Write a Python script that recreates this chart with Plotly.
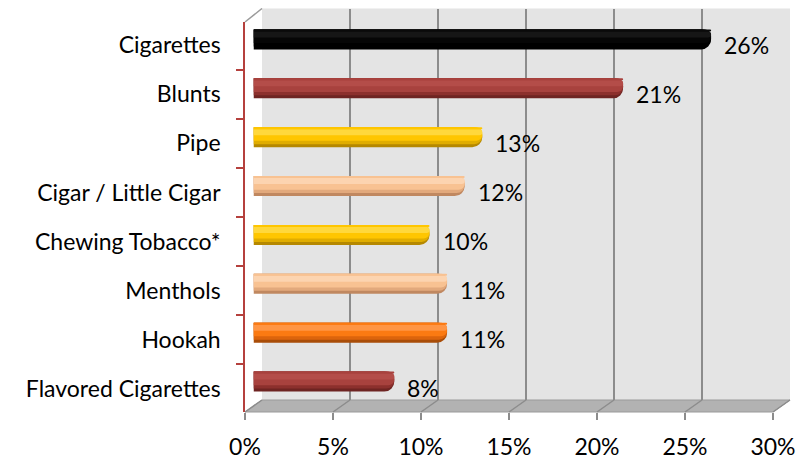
import plotly.graph_objects as go

# ---- data ----
categories = ["Cigarettes", "Blunts", "Pipe", "Cigar / Little Cigar",
              "Chewing Tobacco*", "Menthols", "Hookah", "Flavored Cigarettes"]
values = [26, 21, 13, 12, 10, 11, 11, 8]
x_ticks = [0, 5, 10, 15, 20, 25, 30]

# ---- styles (per bar: bottom shade -> top highlight) ----
shade_cols = [
    ["#000000", "#000000", "#060606", "#161616", "#0a0a0a"],   # Cigarettes
    ["#6e2422", "#8c302d", "#a8423e", "#b44d49", "#a8423e"],   # Blunts
    ["#b58800", "#e0ad00", "#ffc600", "#ffd83c", "#ffc600"],   # Pipe
    ["#c08860", "#e2a97c", "#f8c292", "#fcd4b0", "#f8c292"],   # Cigar
    ["#b58800", "#e0ad00", "#ffc600", "#ffd83c", "#ffc600"],   # Chewing
    ["#c08860", "#e2a97c", "#f8c292", "#fcd4b0", "#f8c292"],   # Menthols
    ["#a94d08", "#dc640c", "#fb7a12", "#ff9544", "#fb7a12"],   # Hookah
    ["#6e2422", "#8c302d", "#a8423e", "#b44d49", "#a8423e"],   # Flavored
]

# the page body has an 8px margin: shift the figure so it lines up with the window
PAGE_W, PAGE_H = 810, 466
BODY = 8
W, H = PAGE_W - BODY, PAGE_H - BODY
FONT = "Lato"
FS = 23


def px(x):
    return (x - BODY) / W


def py(y):
    return 1 - (y - BODY) / H


# geometry (window pixels) of the pseudo-3D box
BACK_X = (262, 790)
BACK_Y = (8.5, 400)
FRONT_X = (245, 773)
FRONT_Y = (22, 412)
MID_X = (253.5, 781.5)
MID_Y = (15, 406)
XMAX = 30

fig = go.Figure()

# invisible traces so that every subplot exists
fig.add_trace(go.Scatter(x=values, y=categories, xaxis="x", yaxis="y", mode="markers",
                         marker=dict(opacity=0), hoverinfo="skip", showlegend=False))
fig.add_trace(go.Scatter(x=values, y=categories, xaxis="x2", yaxis="y2", mode="markers",
                         marker=dict(opacity=0), hoverinfo="skip", showlegend=False))

# cylinder bars built from stacked shading layers (top edge at offset -0.205)
BW = 0.41
layers = [  # (fraction of thickness from top, start fraction, corner radius)
    (1.00, 0.00, 10),
    (0.85, 0.00, 9),
    (0.68, 0.00, 8),
    (0.30, 0.10, 4),
    (0.10, 0.00, 2),
]
for li, (frac, start, cr) in enumerate(layers):
    fig.add_trace(go.Bar(
        x=values, y=categories, orientation="h", xaxis="x3", yaxis="y3",
        width=[BW * frac] * len(values), offset=[-BW / 2 + BW * start] * len(values),
        marker=dict(color=[c[li] for c in shade_cols], line=dict(width=0), cornerradius=cr),
        hoverinfo="skip", showlegend=False,
    ))

# value labels
for c, v in zip(categories, values):
    fig.add_annotation(x=v, y=c, xref="x3", yref="y3", text=f"{v}%",
                       showarrow=False, xanchor="left", yanchor="middle",
                       xshift=11, yshift=-6,
                       font=dict(family=FONT, size=FS, color="#000000"))

shapes = []
# back wall
shapes.append(dict(type="rect", xref="paper", yref="paper",
                   x0=px(BACK_X[0]), x1=px(BACK_X[1]), y0=py(BACK_Y[1]), y1=py(BACK_Y[0]),
                   fillcolor="#e4e4e4", line=dict(width=0), layer="below"))
# floor
floor_path = (f"M {px(BACK_X[0])},{py(BACK_Y[1])} L {px(BACK_X[1])},{py(BACK_Y[1])} "
              f"L {px(FRONT_X[1])},{py(FRONT_Y[1])} L {px(FRONT_X[0])},{py(FRONT_Y[1])} Z")
shapes.append(dict(type="path", xref="paper", yref="paper", path=floor_path,
                   fillcolor="#b2b2b2", line=dict(color="#9a9a9a", width=1), layer="below"))
# floor grid diagonals from tick values
for t in x_ticks:
    xb = BACK_X[0] + t / XMAX * (BACK_X[1] - BACK_X[0])
    xf = FRONT_X[0] + t / XMAX * (FRONT_X[1] - FRONT_X[0])
    shapes.append(dict(type="line", xref="paper", yref="paper",
                       x0=px(xb), y0=py(BACK_Y[1]), x1=px(xf), y1=py(FRONT_Y[1]),
                       line=dict(color="#8c8c8c", width=1.5), layer="below"))
# top-left edge
shapes.append(dict(type="line", xref="paper", yref="paper",
                   x0=px(FRONT_X[0]), y0=py(FRONT_Y[0]), x1=px(BACK_X[0]), y1=py(BACK_Y[0]),
                   line=dict(color="#9a9a9a", width=1.5), layer="below"))

hidden = dict(showgrid=False, zeroline=False, showticklabels=False, ticks="",
              showline=False, automargin=False, fixedrange=True)

fig.update_layout(
    width=W, height=H,
    margin=dict(l=0, r=0, t=0, b=0, pad=0, autoexpand=False),
    paper_bgcolor="white", plot_bgcolor="rgba(0,0,0,0)",
    barmode="overlay",
    showlegend=False,
    shapes=shapes,
    font=dict(family=FONT, size=FS, color="#000000"),
    # back wall axes (gridlines)
    xaxis=dict(domain=[px(BACK_X[0]), px(BACK_X[1])], range=[0, XMAX], anchor="y",
               tickvals=x_ticks, showgrid=True, gridcolor="#8c8c8c", gridwidth=1.5,
               zeroline=False, showticklabels=False, ticks="", showline=False,
               automargin=False, fixedrange=True),
    yaxis=dict(domain=[py(BACK_Y[1]), py(BACK_Y[0])], anchor="x", type="category",
               categoryorder="array", categoryarray=categories, autorange="reversed",
               **hidden),
    # front axes (tick labels)
    xaxis2=dict(domain=[px(FRONT_X[0]), px(FRONT_X[1])], range=[0, XMAX], anchor="y2",
                tickvals=x_ticks, ticktext=[f"{t}%" for t in x_ticks],
                showgrid=False, zeroline=False, showline=False,
                ticks="outside", ticklen=7, tickwidth=1.5, tickcolor="#8c8c8c",
                ticklabelstandoff=7, automargin=False, fixedrange=True,
                tickfont=dict(family=FONT, size=FS, color="#000000")),
    yaxis2=dict(domain=[py(FRONT_Y[1]), py(FRONT_Y[0])], anchor="x2", type="category",
                categoryorder="array", categoryarray=categories, autorange="reversed",
                tickson="boundaries", ticks="outside", ticklen=7, tickwidth=1.5,
                tickcolor="#b5403d", showline=True, linecolor="#b5403d", linewidth=1.5,
                showgrid=False, zeroline=False, ticklabelstandoff=18,
                automargin=False, fixedrange=True,
                tickfont=dict(family=FONT, size=FS, color="#000000")),
    # mid-depth axes (bars)
    xaxis3=dict(domain=[px(MID_X[0]), px(MID_X[1])], range=[0, XMAX], anchor="y3", **hidden),
    yaxis3=dict(domain=[py(MID_Y[1]), py(MID_Y[0])], anchor="x3", type="category",
                categoryorder="array", categoryarray=categories, autorange="reversed",
                **hidden),
)

fig.write_html("out.html")
